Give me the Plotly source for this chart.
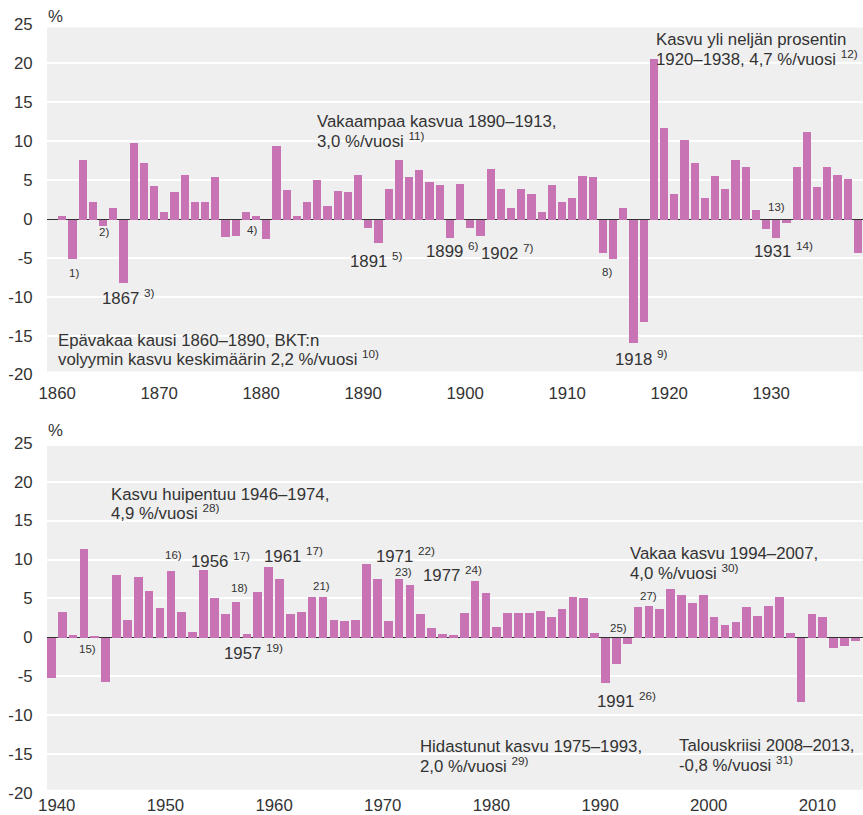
import plotly.graph_objects as go

# ---- data -------------------------------------------------------------
years_top = list(range(1861, 1940))
growth_top = [
    0.5, -5.1, 7.7, 2.3, -0.8, 1.5, -8.2, 9.8, 7.2,            # 1861-1869
    4.3, 1.0, 3.5, 5.7, 2.2, 2.2, 5.4, -2.2, -2.1, 1.0,        # 1870-1879
    0.5, -2.5, 9.4, 3.8, 0.5, 2.3, 5.1, 1.7, 3.6, 3.5,         # 1880-1889
    5.7, -1.1, -3.0, 3.9, 7.7, 5.4, 6.3, 4.8, 4.4, -2.4,       # 1890-1899
    4.6, -1.1, -2.1, 6.5, 3.9, 1.5, 3.9, 3.3, 1.0, 4.4,        # 1900-1909
    2.2, 2.8, 5.6, 5.4, -4.3, -5.1, 1.5, -15.9, -13.2, 20.6,   # 1910-1919
    11.8, 3.3, 10.2, 7.3, 2.7, 5.6, 3.9, 7.6, 6.7, 1.2,        # 1920-1929
    -1.2, -2.4, -0.4, 6.7, 11.2, 4.2, 6.7, 5.7, 5.2, -4.3,     # 1930-1939
]
years_bottom = list(range(1940, 2015))
growth_bottom = [
    -5.2, 3.3, 0.3, 11.4, 0.2, -5.7, 8.0, 2.3, 7.8, 6.0,       # 1940-1949
    3.8, 8.5, 3.3, 0.7, 8.7, 5.1, 3.0, 4.5, 0.5, 5.9,          # 1950-1959
    9.1, 7.5, 3.0, 3.3, 5.2, 5.2, 2.3, 2.1, 2.3, 9.5,          # 1960-1969
    7.5, 2.1, 7.5, 6.7, 3.0, 1.2, 0.5, 0.35, 3.1, 7.2,         # 1970-1979
    5.7, 1.3, 3.1, 3.1, 3.1, 3.4, 2.6, 3.6, 5.2, 5.1,          # 1980-1989
    0.6, -5.8, -3.4, -0.8, 3.9, 4.1, 3.6, 6.2, 5.4, 4.4,       # 1990-1999
    5.5, 2.6, 1.6, 2.0, 3.9, 2.8, 4.1, 5.2, 0.6, -8.3,         # 2000-2009
    3.0, 2.6, -1.4, -1.1, -0.4,                                # 2010-2014
]
xticks_top = [1860, 1870, 1880, 1890, 1900, 1910, 1920, 1930]
xticks_bottom = [1940, 1950, 1960, 1970, 1980, 1990, 2000, 2010]
yticks = [-20, -15, -10, -5, 0, 5, 10, 15, 20, 25]
ytick_text = [str(v) for v in yticks]

# ---- style ------------------------------------------------------------
W, H = 863, 815
BAR = "#c873b3"
BG = "#efefef"
TXT = "#333333"
FONT = "Liberation Sans, Arial, Helvetica, sans-serif"
FS = 16.8

fig = go.Figure()
fig.add_trace(go.Bar(x=[y - 0.5 for y in years_top], y=growth_top, width=0.8,
                     marker=dict(color=BAR, line=dict(width=0)),
                     xaxis="x", yaxis="y", showlegend=False))
fig.add_trace(go.Bar(x=[y - 0.5 for y in years_bottom], y=growth_bottom, width=0.8,
                     marker=dict(color=BAR, line=dict(width=0)),
                     xaxis="x2", yaxis="y2", showlegend=False))

xl = 47 / W
def ydom(p_low, p_high):
    return [1 - p_low / H, 1 - p_high / H]

xcommon = dict(showgrid=False, zeroline=False, showline=False,
               tickcolor="rgba(0,0,0,0)", automargin=False,
               tickfont=dict(size=FS, color=TXT, family=FONT))
ycommon = dict(range=[-20, 25], tickvals=yticks, ticktext=ytick_text,
               showgrid=True, gridcolor="white", gridwidth=2,
               zeroline=True, zerolinecolor="#333333", zerolinewidth=1,
               showline=False, ticks="outside", ticklen=10, automargin=False,
               tickcolor="rgba(0,0,0,0)",
               tickfont=dict(size=FS, color=TXT, family=FONT))

fig.update_layout(
    width=W, height=H,
    margin=dict(l=0, r=0, t=0, b=0, autoexpand=False),
    paper_bgcolor="white", plot_bgcolor="white",
    font=dict(family=FONT, color=TXT, size=FS),
    bargap=0,
    xaxis=dict(domain=[xl, 1], range=[1859, 1939], tickvals=xticks_top,
               ticks="outside", ticklen=3, anchor="y", **xcommon),
    yaxis=dict(domain=ydom(374.6, 24.5), anchor="x", **ycommon),
    xaxis2=dict(domain=[xl, 1], range=[1939.1, 2014.2], tickvals=xticks_bottom,
                ticks="", anchor="y2", **xcommon),
    yaxis2=dict(domain=ydom(792.9, 442.8), anchor="x2", **ycommon),
    shapes=[
        dict(type="rect", xref="x domain", yref="y", x0=0, x1=1, y0=-19.6, y1=24.6,
             fillcolor=BG, line=dict(width=0), layer="below"),
        dict(type="rect", xref="x2 domain", yref="y2", x0=0, x1=1, y0=-19.6, y1=24.6,
             fillcolor=BG, line=dict(width=0), layer="below"),
    ],
)

annotations = []
def txt(px, py, text, size=FS, xanchor="left"):
    annotations.append(dict(xref="paper", yref="paper", x=px / W, y=1 - py / H,
                            text=text, showarrow=False, xanchor=xanchor,
                            yanchor="middle", align="left",
                            font=dict(size=size, color=TXT, family=FONT)))

SM = 11.5
# axis unit labels
txt(55, 17, "%", xanchor="center")
txt(55, 431, "%", xanchor="center")

# --- top panel
txt(67, 273, "1)", SM)
txt(97, 232, "2)", SM)
txt(100, 296.5, "1867 <sup>3)</sup>")
txt(245, 230, "4)", SM)
txt(348, 260, "1891 <sup>5)</sup>")
txt(424, 250, "1899 <sup>6)</sup>")
txt(479, 251.5, "1902 <sup>7)</sup>")
txt(600, 271.5, "8)", SM)
txt(613, 357.5, "1918 <sup>9)</sup>")
txt(766, 207.5, "13)", SM)
txt(752, 250, "1931 <sup>14)</sup>")
txt(315, 121, "Vakaampaa kasvua 1890–1913,")
txt(315, 140, "3,0 %/vuosi <sup>11)</sup>")
txt(654, 39.5, "Kasvu yli neljän prosentin")
txt(654, 57.5, "1920–1938, 4,7 %/vuosi <sup>12)</sup>")
txt(56, 340, "Epävakaa kausi 1860–1890, BKT:n")
txt(56, 358, "volyymin kasvu keskimäärin 2,2 %/vuosi <sup>10)</sup>")

# --- bottom panel
txt(109, 494, "Kasvu huipentuu 1946–1974,")
txt(109, 512, "4,9 %/vuosi <sup>28)</sup>")
txt(77, 649, "15)", SM)
txt(163, 555, "16)", SM)
txt(189, 560, "1956 <sup>17)</sup>")
txt(229, 588, "18)", SM)
txt(222, 651.5, "1957 <sup>19)</sup>")
txt(262, 555, "1961 <sup>17)</sup>")
txt(311, 586, "21)", SM)
txt(374, 555, "1971 <sup>22)</sup>")
txt(393, 572, "23)", SM)
txt(421, 573.5, "1977 <sup>24)</sup>")
txt(608, 628, "25)", SM)
txt(595, 700, "1991 <sup>26)</sup>")
txt(638, 595.5, "27)", SM)
txt(628, 553.5, "Vakaa kasvu 1994–2007,")
txt(628, 571.5, "4,0 %/vuosi <sup>30)</sup>")
txt(418, 746.5, "Hidastunut kasvu 1975–1993,")
txt(418, 765, "2,0 %/vuosi <sup>29)</sup>")
txt(677, 745, "Talouskriisi 2008–2013,")
txt(677, 763.5, "-0,8 %/vuosi <sup>31)</sup>")

fig.update_layout(annotations=annotations)
fig.write_html("out.html",
               config={"displayModeBar": False},
               post_script="document.body.style.margin='0';"
                           "document.body.style.overflow='hidden';")
